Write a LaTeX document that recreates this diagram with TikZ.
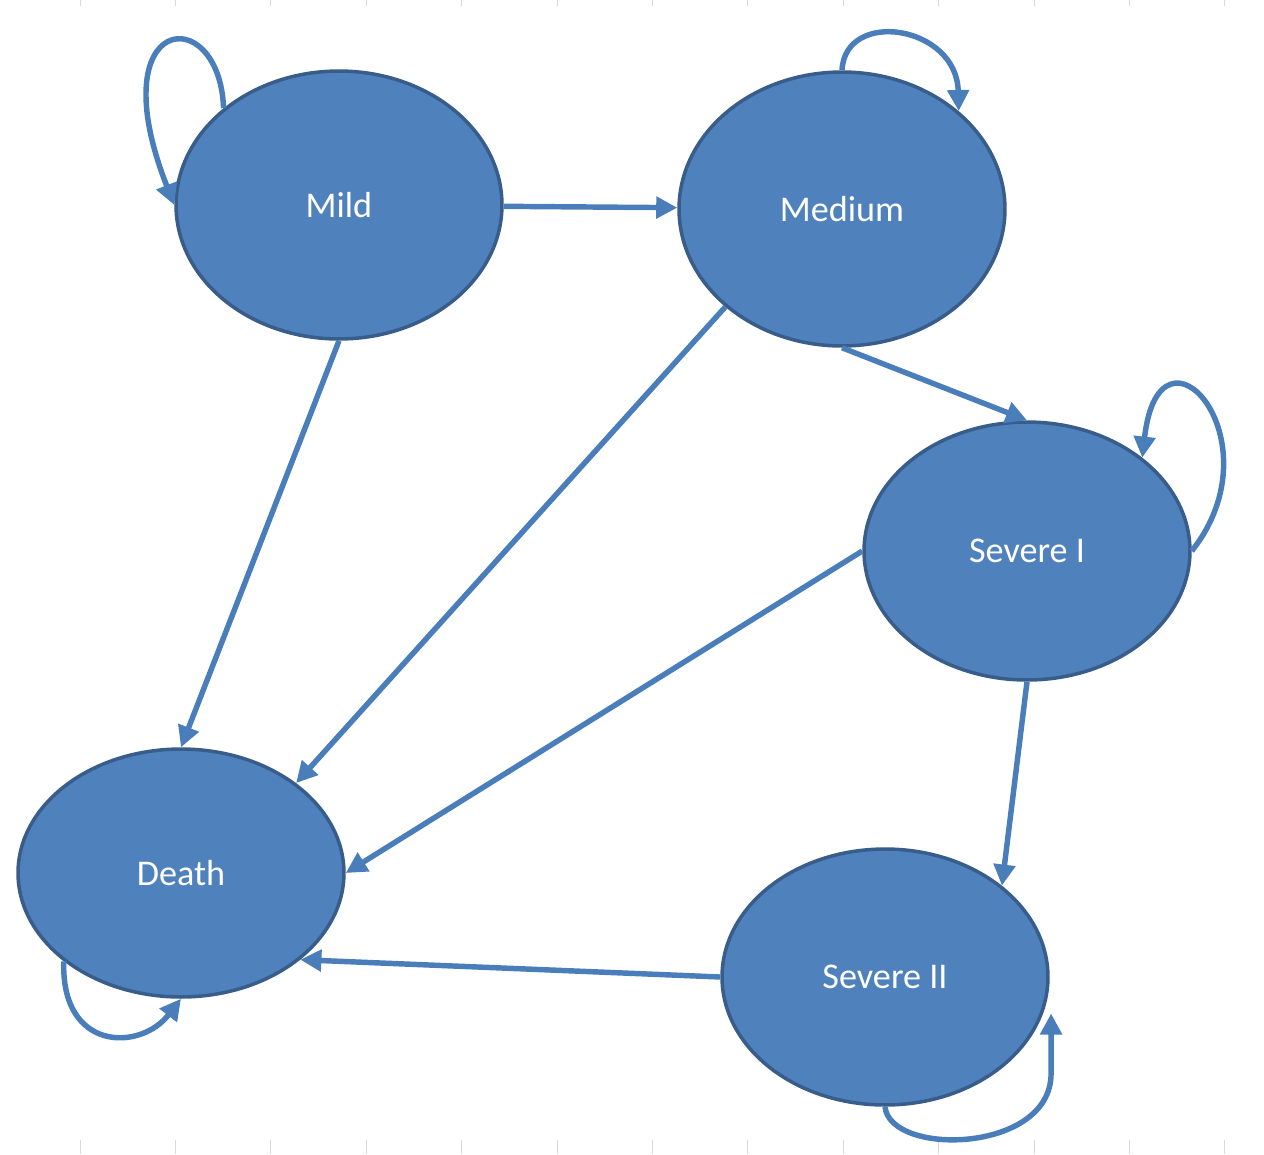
\documentclass[tikz,border=0pt]{standalone}
\usepackage{fontspec}
\setmainfont{Carlito}
\usetikzlibrary{arrows.meta,calc,shapes.geometric}
\definecolor{StateClr}{RGB}{79,129,189}
\definecolor{EdgeClr}{RGB}{56,93,138}
\definecolor{ArrowClr}{RGB}{74,126,187}
\definecolor{TickClr}{RGB}{217,217,217}

\begin{document}
\begin{tikzpicture}[x=0.02cm,y=-0.02cm,
  state/.style={ellipse,draw=EdgeClr,fill=StateClr,line width=2pt,inner sep=0pt,
    minimum width=6.52cm,text=white,font=\fontsize{20.6}{24}\selectfont},
  arr/.style={draw=ArrowClr,line width=3.1pt,-{Triangle[length=12pt,width=12pt]}}]
\useasboundingbox (0,0) rectangle (1264,1154);

% Ticks.
\foreach \i in {0,...,12}{
  \draw[TickClr,line width=0.5pt] (80+95.4*\i,0) -- (80+95.4*\i,6);
  \draw[TickClr,line width=0.5pt] (80+95.4*\i,1140) -- (80+95.4*\i,1154);
}

% States.
\node[state,minimum height=5.36cm] (mild) at (339,205) {Mild};
\node[state,minimum height=5.48cm] (medium) at (842,209) {Medium};
\node[state,minimum height=5.16cm] (sev1) at (1027,551) {Severe I};
\node[state,minimum height=4.96cm] (death) at (181,873) {Death};
\node[state,minimum height=5.12cm] (sev2) at (885,977) {Severe II};

% Transitions.
\draw[arr] (mild) -- (medium);
\draw[arr] (mild.south) -- (death.north);
\draw[arr] (medium.220) -- (death.38);
\draw[arr] (medium.south) -- (sev1.north);
\draw[arr] (sev1.west) -- (death.east);
\draw[arr] (sev1.south) -- (sev2.38);
\draw[arr] (sev2.west) -- (death.-36);

% Self loops.
\draw[arr] (mild.140) .. controls +(-4,-108) and +(-76,-193) .. (mild.west);
\draw[arr] (medium.north) .. controls +(3,-62) and +(-2,-86) .. (medium.40);
\draw[arr] (sev1.east) .. controls +(88,-111) and +(17,-152) .. (sev1.39);
\draw[arr] (death.217) .. controls +(-3,90) and +(-41,53) .. (death.south);
\draw[arr] (sev2.south) .. controls +(5,50) and +(0,80) .. ($(sev2.-13)+(8,60)$)
  -- ($(sev2.-13)+(8,0)$);

\end{tikzpicture}
\end{document}
